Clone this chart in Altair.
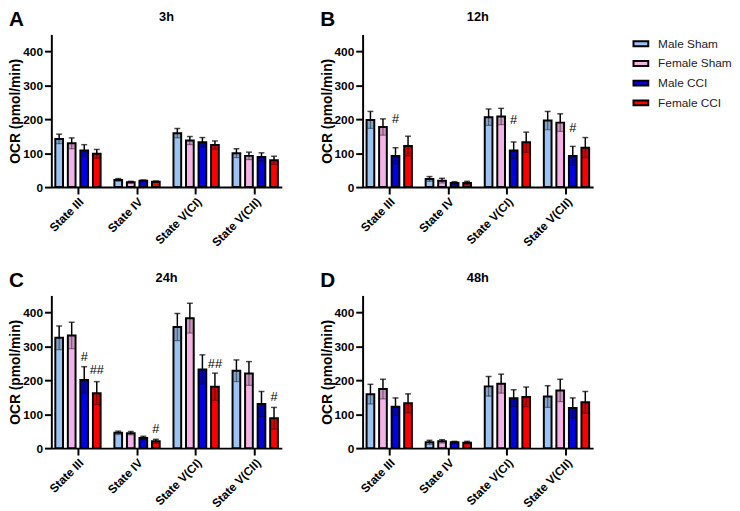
import altair as alt
import pandas as pd

FONT = "Liberation Sans"

states = ["State III", "State IV", "State V(CI)", "State V(CII)"]
groups = ["Male Sham", "Female Sham", "Male CCI", "Female CCI"]
colors = ["#9dc3f2", "#f4b3e8", "#0000e6", "#ff0000"]
times = ["3h", "12h", "24h", "48h"]
letters = ["A", "B", "C", "D"]

# means per group (over states), per time
mean_3h = {
    "Male Sham": [142, 21, 159, 100],
    "Female Sham": [129, 14, 137, 92],
    "Male CCI": [108, 19, 132, 89],
    "Female CCI": [98, 16, 124, 79],
}
err_3h = {
    "Male Sham": [14, 4, 14, 13],
    "Female Sham": [16, 3, 12, 11],
    "Male CCI": [17, 2, 14, 12],
    "Female CCI": [13, 2, 12, 12],
}
mean_12h = {
    "Male Sham": [198, 24, 206, 196],
    "Female Sham": [177, 19, 208, 190],
    "Male CCI": [92, 12, 108, 92],
    "Female CCI": [121, 12, 132, 116],
}
err_12h = {
    "Male Sham": [25, 7, 24, 27],
    "Female Sham": [24, 7, 24, 26],
    "Male CCI": [24, 4, 25, 28],
    "Female CCI": [29, 5, 30, 30],
}
mean_24h = {
    "Male Sham": [325, 45, 357, 228],
    "Female Sham": [332, 44, 383, 220],
    "Male CCI": [201, 30, 232, 130],
    "Female CCI": [162, 20, 181, 88],
}
err_24h = {
    "Male Sham": [35, 5, 40, 32],
    "Female Sham": [39, 5, 44, 35],
    "Male CCI": [39, 5, 43, 37],
    "Female CCI": [34, 6, 40, 32],
}
mean_48h = {
    "Male Sham": [159, 17, 182, 152],
    "Female Sham": [174, 20, 190, 170],
    "Male CCI": [122, 17, 147, 118],
    "Female CCI": [132, 16, 151, 135],
}
err_48h = {
    "Male Sham": [29, 6, 29, 32],
    "Female Sham": [29, 5, 28, 33],
    "Male CCI": [26, 3, 25, 30],
    "Female CCI": [28, 4, 29, 32],
}

# significance marks
sig_time = ["12h", "12h", "12h", "24h", "24h", "24h", "24h", "24h"]
sig_state = ["State III", "State V(CI)", "State V(CII)", "State III", "State III",
             "State IV", "State V(CI)", "State V(CII)"]
sig_group = ["Male CCI", "Male CCI", "Male CCI", "Male CCI", "Female CCI",
             "Female CCI", "Female CCI", "Female CCI"]
sig_label = ["#", "#", "#", "#", "##", "#", "##", "#"]
sig_pos = [200, 197, 173, 269, 230, 57, 247, 150]

means = {"3h": mean_3h, "12h": mean_12h, "24h": mean_24h, "48h": mean_48h}
errs = {"3h": err_3h, "12h": err_12h, "24h": err_24h, "48h": err_48h}

rows = []
for t in times:
    for g in groups:
        for i, s in enumerate(states):
            v = means[t][g][i]
            e = errs[t][g][i]
            rows.append(dict(time=t, state=s, group=g, value=v, err=e, lo=v - e, hi=v + e))
df = pd.DataFrame(rows)
sig = pd.DataFrame(dict(time=sig_time, state=sig_state, group=sig_group,
                        label=sig_label, pos=sig_pos))

yaxis = alt.Axis(title="OCR (pmol/min)", values=[0, 100, 200, 300, 400])
yscale = alt.Scale(domain=[0, 450], nice=False)


def X():
    return alt.X("state:N", scale=alt.Scale(domain=states, paddingInner=0.233, paddingOuter=0.067),
                 axis=alt.Axis(title=None, labelAngle=-45, labelAlign="right",
                               labelBaseline="top", labelPadding=2))


def XO():
    return alt.XOffset("group:N", scale=alt.Scale(domain=groups, paddingInner=0.385, paddingOuter=0))


def panel(t, letter):
    base = alt.Chart(df).transform_filter(alt.datum.time == t)
    bars = base.mark_bar(stroke="black", strokeWidth=2).encode(
        x=X(), xOffset=XO(),
        y=alt.Y("value:Q", scale=yscale, axis=yaxis),
        color=alt.Color("group:N", scale=alt.Scale(domain=groups, range=colors),
                        legend=alt.Legend(title=None, orient="none", legendX=590, legendY=1,
                                          padding=0,
                                          symbolType="M-1,-0.33H1V0.33H-1Z", symbolSize=225,
                                          symbolStrokeColor="black", symbolStrokeWidth=2,
                                          labelFont=FONT, labelFontSize=12, labelColor="#222",
                                          labelOffset=9, rowPadding=5)),
    )
    shade = base.mark_bar(color="black", opacity=0.16).encode(
        x=X(), xOffset=XO(),
        y=alt.Y("lo:Q", scale=yscale, axis=yaxis), y2="value:Q",
    )
    up = base.mark_rule(color="black", strokeWidth=1.5).encode(
        x=X(), xOffset=XO(),
        y=alt.Y("value:Q", scale=yscale, axis=yaxis), y2="hi:Q",
    )
    down = base.mark_rule(color="black", strokeWidth=1.2, opacity=0.4).encode(
        x=X(), xOffset=XO(),
        y=alt.Y("lo:Q", scale=yscale, axis=yaxis), y2="value:Q",
    )
    cap = base.mark_tick(color="black", thickness=1.5, size=6, orient="horizontal").encode(
        x=X(), xOffset=XO(),
        y=alt.Y("hi:Q", scale=yscale, axis=yaxis),
    )
    lowcap = base.mark_tick(color="black", thickness=1.2, size=6, orient="horizontal", opacity=0.4).encode(
        x=X(), xOffset=XO(),
        y=alt.Y("lo:Q", scale=yscale, axis=yaxis),
    )
    layers = [bars, shade, up, down, cap, lowcap]
    s = sig[sig.time == t]
    if len(s):
        txt = alt.Chart(s).mark_text(font=FONT, fontSize=13, baseline="middle", color="black").encode(
            x=X(), xOffset=XO(),
            y=alt.Y("pos:Q", scale=yscale, axis=yaxis),
            text="label:N",
        )
        layers.append(txt)
    lab = alt.Chart(pd.DataFrame({"l": [letter], "t": [t]})).mark_text(
        font=FONT, fontSize=21, fontWeight="bold", align="left", baseline="alphabetic", color="black"
    ).encode(x=alt.value(-43), y=alt.value(-9), text="l:N")
    ttl = alt.Chart(pd.DataFrame({"t": [t]})).mark_text(
        font=FONT, fontSize=13, fontWeight="bold", align="center", baseline="alphabetic", color="black"
    ).encode(x=alt.value(117), y=alt.value(-14), text="t:N")
    layers += [lab, ttl]
    return alt.layer(*layers).properties(width=234, height=155)


row1 = alt.hconcat(panel("3h", "A"), panel("12h", "B"), spacing=38)
row2 = alt.hconcat(panel("24h", "C"), panel("48h", "D"), spacing=38)
chart = alt.vconcat(row1, row2, spacing=21).properties(
    padding={"left": 0, "top": -3, "right": 0, "bottom": -4}
).configure_view(stroke=None).configure_axis(
    grid=False, domainColor="black", domainWidth=2, tickColor="black", tickWidth=2, tickSize=7,
    labelFont=FONT, labelFontSize=12, labelFontWeight="bold", labelColor="black",
    titleFont=FONT, titleFontSize=14, titleFontWeight="bold", titleColor="black",
).configure_axisY(titlePadding=0, labelPadding=2).configure_axisX(labelPadding=2)

chart.save("out.html", embed_options={"renderer": "svg", "actions": False})
